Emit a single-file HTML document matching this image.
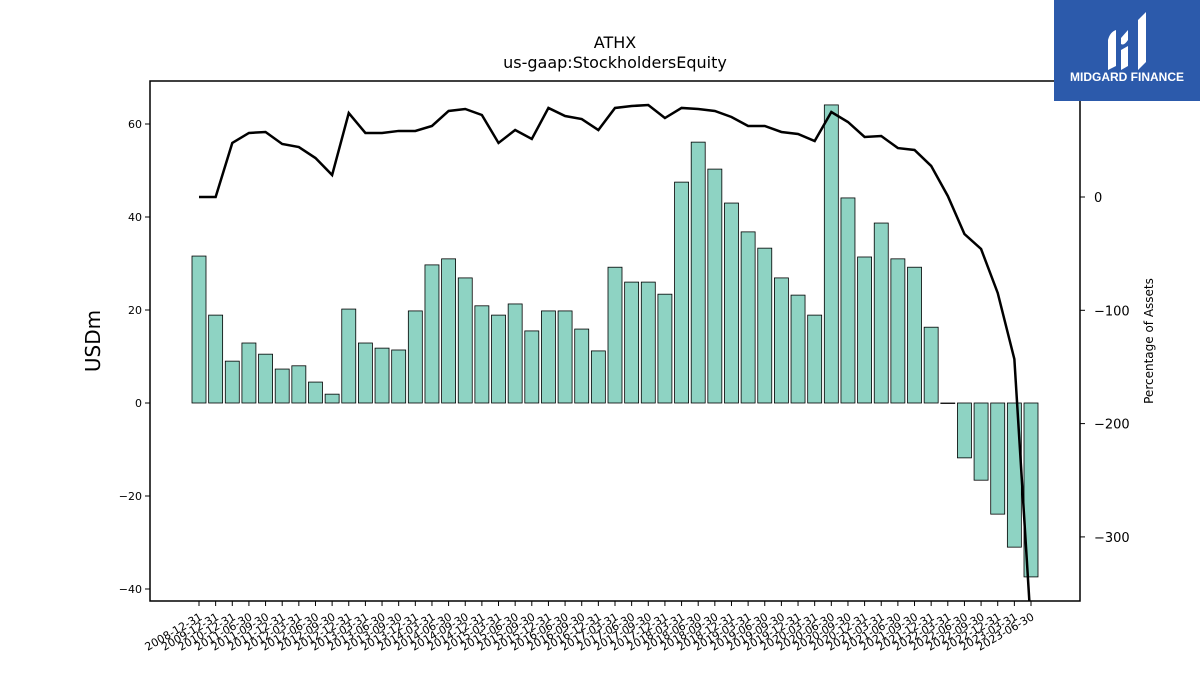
<!DOCTYPE html>
<html><head><meta charset="utf-8"><style>
body{margin:0;background:#fff;font-family:"Liberation Sans","DejaVu Sans",sans-serif;}
svg text{font-family:"DejaVu Sans","Liberation Sans",sans-serif;}
</style></head><body>
<svg id="c" width="1200" height="675" xmlns="http://www.w3.org/2000/svg">
<text x="615" y="48" font-size="16" text-anchor="middle">ATHX</text>
<text x="615" y="68" font-size="16" text-anchor="middle">us-gaap:StockholdersEquity</text>
<g id="bars"></g><g id="xt"></g><g id="yl"></g><g id="yr"></g>
<path id="line" fill="none" stroke="#000" stroke-width="2.5"/>
<rect x="150" y="81" width="930" height="520" fill="none" stroke="#000" stroke-width="1.5"/>
<text transform="translate(100,341) rotate(-90)" font-size="20" text-anchor="middle">USDm</text>
<text transform="translate(1153,341) rotate(-90)" font-size="12" text-anchor="middle">Percentage of Assets</text>
<g>
<rect x="1054" y="0" width="146" height="101" fill="#2c5aab"/>
<path d="M1108 40 Q1110 32 1116 30 L1116 66 L1108 70 Z M1121 38 L1128 30 L1128 40 Q1124 46 1121 44 Z M1121 50 L1128 46 L1128 66 L1121 70 Z M1138 20 L1146 12 L1146 62 L1138 70 Z" fill="#fff"/>
<text x="1127" y="81" font-size="12" font-weight="bold" fill="#fff" text-anchor="middle" style="font-family:'Liberation Sans',sans-serif">MIDGARD FINANCE</text>
</g>
</svg>
<script>
const labels=["2008-12-31","2009-12-31","2010-12-31","2011-06-30","2011-09-30","2011-12-31","2012-03-31","2012-06-30","2012-09-30","2012-12-31","2013-03-31","2013-06-30","2013-09-30","2013-12-31","2014-03-31","2014-06-30","2014-09-30","2014-12-31","2015-03-31","2015-06-30","2015-09-30","2015-12-31","2016-06-30","2016-09-30","2016-12-31","2017-03-31","2017-06-30","2017-09-30","2017-12-31","2018-03-31","2018-06-30","2018-09-30","2018-12-31","2019-03-31","2019-06-30","2019-09-30","2019-12-31","2020-03-31","2020-06-30","2020-09-30","2020-12-31","2021-03-31","2021-06-30","2021-09-30","2021-12-31","2022-03-31","2022-06-30","2022-09-30","2022-12-31","2023-03-31","2023-06-30"];
const equity=[31.6,18.9,9.0,12.9,10.5,7.3,8.0,4.5,1.9,20.2,12.9,11.8,11.4,19.8,29.7,31.0,26.9,20.9,18.9,21.3,15.5,19.8,19.8,15.9,11.2,29.2,26.0,26.0,23.4,47.5,56.1,50.3,43.0,36.8,33.3,26.9,23.2,18.9,64.1,44.1,31.4,38.7,31.0,29.2,16.3,0,-11.8,-16.6,-23.9,-31.0,-37.4];
const pct=[0,0,47.7,56.5,57.4,46.8,44.1,34.4,19.4,74.1,56.5,56.5,58.3,58.3,62.7,75.9,77.7,72.4,47.7,59.1,51.2,78.6,71.5,68.8,59.1,78.6,80.3,81.2,69.7,78.6,77.7,75.9,70.6,62.7,62.7,57.4,55.6,49.4,75.0,66.2,53.0,53.8,43.2,41.5,27.4,0.9,-32.7,-45.9,-84.7,-143,-380];
const leftTicks=[-40,-20,0,20,40,60];
const rightTicks=[-300,-200,-100,0];
const NS="http://www.w3.org/2000/svg";
const PT=81,PB=601;
const yL=v=>403-v*4.65;
const yR=v=>197-v*1.133;
const xC=i=>199+i*16.64;
function mk(t,a,p){const e=document.createElementNS(NS,t);for(const k in a)e.setAttribute(k,a[k]);p.appendChild(e);return e;}
const bars=document.getElementById('bars');
equity.forEach((v,i)=>{
 const y0=yL(0),y1=yL(v);
 const r=mk('rect',{x:xC(i)-7,y:Math.min(y0,y1),width:14,height:Math.max(Math.abs(y1-y0),0.5),fill:'#8ed3c3',stroke:'#000','stroke-width':0.8},bars);
 
 
});
const xt=document.getElementById('xt');
labels.forEach((l,i)=>{
 mk('line',{x1:xC(i),x2:xC(i),y1:PB,y2:PB+5,stroke:'#000'},xt);
 const t=mk('text',{x:xC(i)+4,y:PB+18,'font-size':11,'text-anchor':'end',transform:`rotate(-30 ${xC(i)+4} ${PB+18})`},xt);
 t.textContent=l;
 
 
});
const yl=document.getElementById('yl');
leftTicks.forEach(v=>{
 mk('line',{x1:145,x2:150,y1:yL(v),y2:yL(v),stroke:'#000'},yl);
 const t=mk('text',{x:142,y:yL(v)+4,'font-size':11,'text-anchor':'end'},yl);
 t.textContent=v<0?'\u2212'+(-v):v;
 
 
});
const yr=document.getElementById('yr');
rightTicks.forEach(v=>{
 mk('line',{x1:1080,x2:1085,y1:yR(v),y2:yR(v),stroke:'#000'},yr);
 const t=mk('text',{x:1094,y:yR(v)+5,'font-size':13},yr);
 t.textContent=v<0?'\u2212'+(-v):v;
 
 
});
mk('clipPath',{id:'clp'},document.getElementById('c'));
mk('rect',{x:150,y:PT,width:930,height:PB-PT},document.getElementById('clp'));
const ln=document.getElementById('line');
ln.setAttribute('d',pct.map((v,i)=>(i?'L':'M')+xC(i)+' '+yR(v)).join(' '));
ln.setAttribute('clip-path','url(#clp)');
</script>
</body></html>
